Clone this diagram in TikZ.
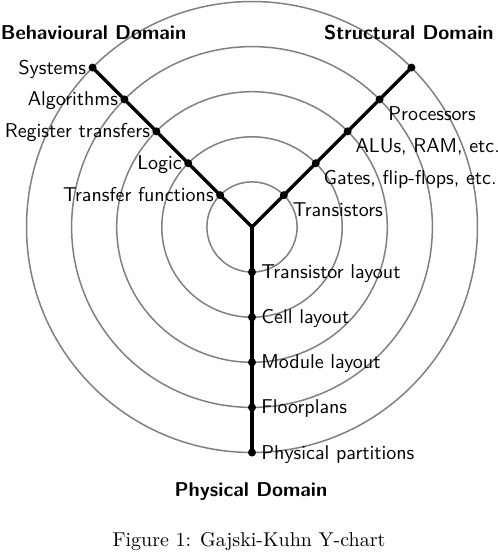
\documentclass[tikz,border=0pt]{standalone}
\usetikzlibrary{calc}
\begin{document}
\begin{tikzpicture}[x=0.5pt,y=-0.5pt,
  ring/.style={draw=black!50, line width=0.75pt},
  axis/.style={line width=1.6pt, line join=miter},
  dot/.style={circle, fill=black, inner sep=0pt, minimum size=4pt},
  lab/.style={font=\sffamily\fontsize{10}{12}\selectfont, inner sep=0pt},
  dom/.style={font=\sffamily\bfseries\fontsize{10}{12}\selectfont, inner sep=0pt},
  capt/.style={font=\rmfamily\fontsize{10}{12}\selectfont, inner sep=0pt}]
\useasboundingbox (0,0) rectangle (498,553);
\coordinate (C) at (252,227);
% rings
\foreach \k in {1,...,5}
  \draw[ring] (C) circle[radius=\k*22.55pt];
% dots on the three axes
\foreach \k in {1,...,5} {
  \node[dot] (b\k) at ($(C)+(-31.89*\k,-31.89*\k)$) {};
  \node[dot] (s\k) at ($(C)+(31.89*\k,-31.89*\k)$) {};
  \node[dot] (p\k) at ($(C)+(0,45.1*\k)$) {};
}
% the Y
\draw[axis] (b5.center) -- (C) -- (s5.center);
\draw[axis] (C) -- (p5.center);
% behavioural labels
\node[lab, anchor=base east] (lb5) at ($(b5)+(-6,6.5)$) {Systems};
\node[lab, anchor=base east] (lb4) at ($(b4)+(-6,6.5)$) {Algorithms};
\node[lab, anchor=base east] (lb3) at ($(b3)+(-6,6.5)$) {Register transfers};
\node[lab, anchor=base east] (lb2) at ($(b2)+(-6,6.5)$) {Logic};
\node[lab, anchor=base east] (lb1) at ($(b1)+(-6,6.5)$) {Transfer functions};
% structural labels
\node[lab, anchor=base west] (ls4) at ($(s4)+(8.5,21.5)$) {Processors};
\node[lab, anchor=base west] (ls3) at ($(s3)+(7.5,21.5)$) {ALUs, RAM, etc.};
\node[lab, anchor=base west] (ls2) at ($(s2)+(7.5,21.5)$) {Gates, flip-flops, etc.};
\node[lab, anchor=base west] (ls1) at ($(s1)+(8.5,21.5)$) {Transistors};
% physical labels
\node[lab, anchor=base west] (lp1) at ($(p1)+(9,6.5)$) {Transistor layout};
\node[lab, anchor=base west] (lp2) at ($(p2)+(9,6.5)$) {Cell layout};
\node[lab, anchor=base west] (lp3) at ($(p3)+(9,6.5)$) {Module layout};
\node[lab, anchor=base west] (lp4) at ($(p4)+(9,6.5)$) {Floorplans};
\node[lab, anchor=base west] (lp5) at ($(p5)+(9,6.5)$) {Physical partitions};
% domain titles
\node[dom, anchor=base west] (bd) at (0.5,39.3) {Behavioural Domain};
\node[dom, anchor=base east] (sd) at (494,39.3) {Structural Domain};
\node[dom, anchor=base] (pd) at (251,496) {Physical Domain};
% caption
\node[capt, anchor=base] (cap) at (249,546.7) {Figure 1: Gajski-Kuhn Y-chart};
\end{tikzpicture}
\end{document}
